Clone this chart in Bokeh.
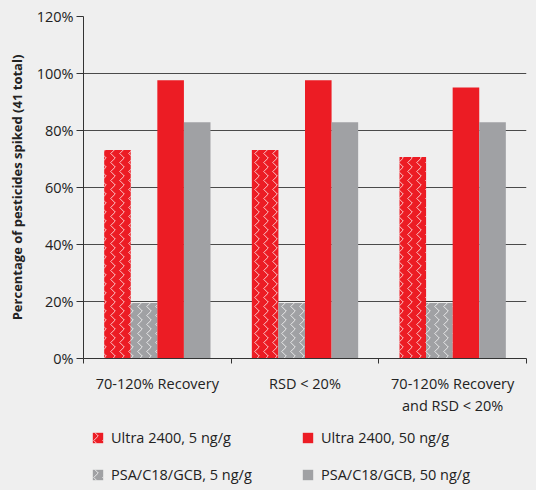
from bokeh.plotting import figure
from bokeh.layouts import column
from bokeh.models import (Range1d, FixedTicker, PrintfTickFormatter, ColumnDataSource,
                          Legend, LegendItem)
from bokeh.transform import dodge
from bokeh.embed import file_html
from bokeh.resources import INLINE

categories = ["70-120% Recovery", "RSD < 20%", "70-120% Recovery\nand RSD < 20%"]
series_names = ["Ultra 2400, 5 ng/g", "PSA/C18/GCB, 5 ng/g",
                "Ultra 2400, 50 ng/g", "PSA/C18/GCB, 50 ng/g"]
ultra_5 = [73.2, 73.2, 70.7]
psa_5 = [19.5, 19.5, 19.5]
ultra_50 = [97.6, 97.6, 95.1]
psa_50 = [82.9, 82.9, 82.9]
y_ticks = [0, 20, 40, 60, 80, 100, 120]

RED = "#ec1c24"
GRAY = "#a0a1a4"
BG = "#efefef"
FONT = "Open Sans"

centers = [i + 0.5 for i in range(len(categories))]
bounds = [float(i) for i in range(len(categories) + 1)]
src = ColumnDataSource(dict(xc=centers, u5=ultra_5, p5=psa_5, u50=ultra_50, p50=psa_50))

p = figure(frame_width=443, frame_height=342, output_backend="svg", toolbar_location=None,
           x_range=Range1d(0, len(categories)), y_range=Range1d(0, 120),
           min_border_left=83, min_border_right=10, min_border_top=16, min_border_bottom=62)
p.background_fill_color = BG
p.border_fill_color = BG
p.outline_line_color = None

w = 0.18
specs = [
    ("u5", -1.5 * w, RED, "vertical_wave", "white"),
    ("p5", -0.5 * w, GRAY, "vertical_wave", "white"),
    ("u50", 0.5 * w, RED, None, None),
    ("p50", 1.5 * w, GRAY, None, None),
]


def draw_bars(fig):
    out = []
    for field, off, col, hp, hc in specs:
        kw = dict(x=dodge("xc", off, range=fig.x_range), top=field, width=w, bottom=0,
                  source=src, fill_color=col, line_color=None)
        if hp:
            kw.update(hatch_pattern=hp, hatch_color=hc, hatch_scale=9, hatch_weight=1.0,
                      hatch_alpha=0.75)
        out.append(fig.vbar(**kw))
    return out


draw_bars(p)

# axes
p.xgrid.grid_line_color = None
p.ygrid.grid_line_color = "#4a4a4a"
p.ygrid.grid_line_width = 1
p.ygrid.ticker = FixedTicker(ticks=y_ticks)

ya = p.yaxis[0]
ya.ticker = FixedTicker(ticks=y_ticks)
ya.formatter = PrintfTickFormatter(format="%d%%")
ya.axis_line_color = "#333333"
ya.major_tick_line_color = "#333333"
ya.major_tick_in = 0
ya.major_tick_out = 7
ya.minor_tick_line_color = None
ya.major_label_text_font = FONT
ya.major_label_text_font_size = "14.5px"
ya.major_label_text_color = "#222222"
ya.major_label_standoff = 3
ya.axis_label = "Percentage of pesticides spiked (41 total)"
ya.axis_label_text_font = FONT
ya.axis_label_text_font_size = "13px"
ya.axis_label_text_font_style = "bold"
ya.axis_label_text_color = "#222222"
ya.axis_label_standoff = 8

xa = p.xaxis[0]
xa.ticker = FixedTicker(ticks=centers, minor_ticks=bounds)
xa.major_label_overrides = {c: lab for c, lab in zip(centers, categories)}
xa.axis_line_color = "#333333"
xa.major_tick_line_color = None
xa.major_tick_in = 0
xa.major_tick_out = 0
xa.minor_tick_line_color = "#333333"
xa.minor_tick_in = 0
xa.minor_tick_out = 5
xa.major_label_text_font = FONT
xa.major_label_text_font_size = "14.5px"
xa.major_label_text_color = "#222222"
xa.major_label_standoff = 10

# legend strip below the chart (its bar renderers are hidden; only their legend swatches show)
leg = figure(width=536, height=70, output_backend="svg", toolbar_location=None,
             x_range=Range1d(0, len(categories)), y_range=Range1d(-20, -10),
             x_axis_type=None, y_axis_type=None,
             min_border_left=0, min_border_right=0, min_border_top=0, min_border_bottom=0)
leg.background_fill_color = BG
leg.border_fill_color = BG
leg.outline_line_color = None
leg.grid.visible = False
leg_renderers = draw_bars(leg)
for r in leg_renderers:
    r.visible = False

legend = Legend(items=[LegendItem(label=series_names[i], renderers=[leg_renderers[i]]) for i in range(4)],
                ncols=2, location=(8, 6),
                label_text_font=FONT, label_text_font_size="14.5px", label_text_color="#222222",
                label_height=20, glyph_width=13, glyph_height=13, label_standoff=7,
                label_width=173, spacing=17, padding=0, margin=0, border_line_color=None,
                background_fill_alpha=0.0)
leg.add_layout(legend)

html = file_html(column(p, leg, spacing=0), INLINE)
html = html.replace("</head>", "<style>html, body { background-color: #efefef; }</style></head>", 1)
open("out.html", "w").write(html)
